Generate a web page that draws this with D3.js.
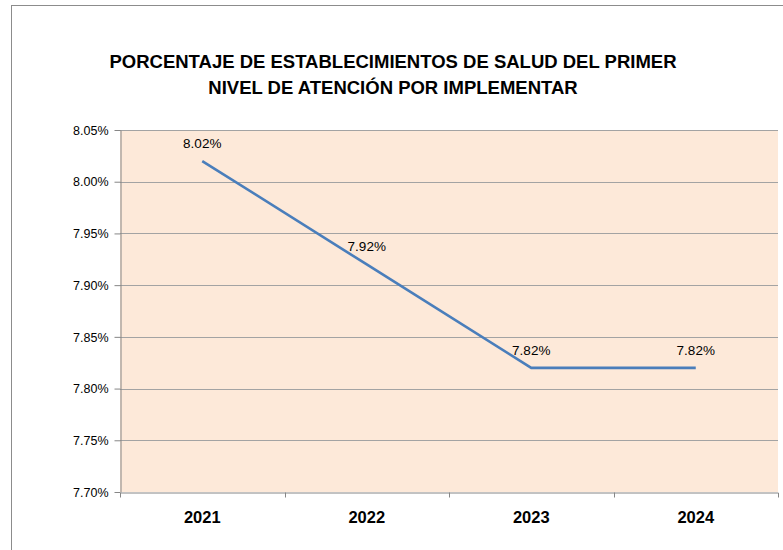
<!DOCTYPE html>
<html>
<head>
<meta charset="utf-8">
<script src="https://cdn.jsdelivr.net/npm/d3@7"></script>
<style>
  html, body { margin: 0; padding: 0; background: #fff; }
  svg { display: block; }
  text { font-family: "Liberation Sans", Arial, sans-serif; }
</style>
</head>
<body>
<svg id="chart" width="783" height="550"></svg>
<script>
// ---- data ----
const titleLines = ["PORCENTAJE DE ESTABLECIMIENTOS DE SALUD DEL PRIMER", "NIVEL DE ATENCIÓN POR IMPLEMENTAR"];
const categories = ["2021", "2022", "2023", "2024"];
const values = [8.02, 7.92, 7.82, 7.82];
const yTicks = [7.70, 7.75, 7.80, 7.85, 7.90, 7.95, 8.00, 8.05];
const yDomain = [7.70, 8.05];

// ---- layout ----
const svg = d3.select("#chart");
const plot = { left: 120, right: 778, top: 130, bottom: 492 };

// outer chart border
svg.append("rect")
  .attr("x", 11.5).attr("y", 5.5)
  .attr("width", 800).attr("height", 600)
  .attr("fill", "#fff").attr("stroke", "#8c8c8c").attr("stroke-width", 1);

// title
svg.append("g").selectAll("text").data(titleLines).join("text")
  .attr("x", 393).attr("y", (d, i) => 68 + i * 25.5)
  .attr("text-anchor", "middle")
  .attr("font-size", 18.5).attr("font-weight", "bold").attr("fill", "#000")
  .text(d => d);

const x = d3.scaleBand().domain(categories).range([plot.left, plot.right]).padding(0);
const y = d3.scaleLinear().domain(yDomain).range([plot.bottom, plot.top]);

// plot background
svg.append("rect")
  .attr("x", plot.left).attr("y", plot.top)
  .attr("width", plot.right - plot.left).attr("height", plot.bottom - plot.top)
  .attr("fill", "#fde9d9");

// gridlines
svg.append("g").selectAll("line").data(yTicks.slice(1)).join("line")
  .attr("x1", plot.left).attr("x2", plot.right)
  .attr("y1", d => Math.round(y(d)) + 0.5).attr("y2", d => Math.round(y(d)) + 0.5)
  .attr("stroke", "#a3a3a3").attr("stroke-width", 1.2);

// y axis
const yAxis = svg.append("g")
  .attr("transform", `translate(${plot.left + 0.5},0)`)
  .call(d3.axisLeft(y).tickValues(yTicks).tickSize(6).tickSizeOuter(0).tickPadding(6)
    .tickFormat(d => d3.format(".2f")(d) + "%"));
yAxis.select(".domain").attr("stroke", "#868686");
yAxis.selectAll(".tick line").attr("stroke", "#868686");
yAxis.selectAll(".tick text")
  .attr("font-family", "'Liberation Sans', Arial, sans-serif")
  .attr("font-size", 12.5).attr("fill", "#000").attr("dy", "0.34em");

// x axis
const xAxis = svg.append("g")
  .attr("transform", `translate(0,${plot.bottom + 0.5})`)
  .call(d3.axisBottom(x).tickSize(0).tickSizeOuter(5).tickPadding(19));
xAxis.select(".domain").attr("stroke", "#868686");
xAxis.selectAll(".tick text")
  .attr("font-family", "'Liberation Sans', Arial, sans-serif")
  .attr("font-size", 16.5).attr("font-weight", "bold").attr("fill", "#000");
// boundary ticks between categories
xAxis.selectAll("line.bound").data(categories.slice(1)).join("line")
  .attr("class", "bound")
  .attr("x1", d => Math.round(x(d)) + 0.5).attr("x2", d => Math.round(x(d)) + 0.5)
  .attr("y1", 0).attr("y2", 5)
  .attr("stroke", "#868686");

// line
const cx = d => x(d) + x.bandwidth() / 2;
svg.append("path")
  .datum(categories.map((c, i) => [c, values[i]]))
  .attr("fill", "none").attr("stroke", "#4a7ebb").attr("stroke-width", 2.6)
  .attr("d", d3.line().x(d => cx(d[0])).y(d => y(d[1])));

// data labels
svg.append("g").selectAll("text").data(categories).join("text")
  .attr("x", d => cx(d)).attr("y", (d, i) => y(values[i]) - 13)
  .attr("text-anchor", "middle")
  .attr("font-size", 13.5).attr("fill", "#000")
  .text((d, i) => d3.format(".2f")(values[i]) + "%");
</script>
</body>
</html>
